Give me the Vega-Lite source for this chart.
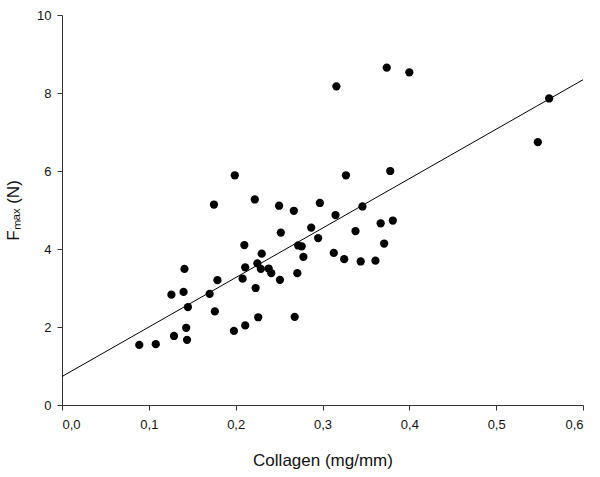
{
  "$schema": "https://vega.github.io/schema/vega-lite/v6.json",
  "width": 521,
  "height": 390,
  "autosize": {"type": "none"},
  "padding": {"left": 62, "top": 15, "right": 17, "bottom": 72},
  "background": "white",
  "config": {
    "view": {"stroke": null},
    "font": "Liberation Sans",
    "axis": {
      "grid": false,
      "domainColor": "#333333",
      "tickColor": "#333333",
      "tickSize": 5,
      "labelColor": "#111111",
      "titleColor": "#111111",
      "labelFont": "Liberation Sans",
      "titleFont": "Liberation Sans",
      "labelFontSize": 13,
      "titleFontSize": 17,
      "titleFontWeight": "normal"
    }
  },
  "datasets": {
    "pts": [
      {"collagen": 0.089, "fmax": 1.54},
      {"collagen": 0.108, "fmax": 1.56},
      {"collagen": 0.129, "fmax": 1.77},
      {"collagen": 0.144, "fmax": 1.67},
      {"collagen": 0.143, "fmax": 1.98},
      {"collagen": 0.126, "fmax": 2.83},
      {"collagen": 0.140, "fmax": 2.90},
      {"collagen": 0.141, "fmax": 3.49},
      {"collagen": 0.145, "fmax": 2.51},
      {"collagen": 0.170, "fmax": 2.85},
      {"collagen": 0.176, "fmax": 2.40},
      {"collagen": 0.179, "fmax": 3.20},
      {"collagen": 0.175, "fmax": 5.14},
      {"collagen": 0.199, "fmax": 5.89},
      {"collagen": 0.198, "fmax": 1.90},
      {"collagen": 0.211, "fmax": 2.04},
      {"collagen": 0.208, "fmax": 3.24},
      {"collagen": 0.211, "fmax": 3.53},
      {"collagen": 0.210, "fmax": 4.10},
      {"collagen": 0.223, "fmax": 3.00},
      {"collagen": 0.226, "fmax": 2.25},
      {"collagen": 0.225, "fmax": 3.63},
      {"collagen": 0.229, "fmax": 3.49},
      {"collagen": 0.230, "fmax": 3.88},
      {"collagen": 0.222, "fmax": 5.27},
      {"collagen": 0.238, "fmax": 3.50},
      {"collagen": 0.241, "fmax": 3.38},
      {"collagen": 0.251, "fmax": 3.21},
      {"collagen": 0.252, "fmax": 4.42},
      {"collagen": 0.250, "fmax": 5.11},
      {"collagen": 0.267, "fmax": 4.98},
      {"collagen": 0.268, "fmax": 2.26},
      {"collagen": 0.271, "fmax": 3.38},
      {"collagen": 0.272, "fmax": 4.09},
      {"collagen": 0.276, "fmax": 4.07},
      {"collagen": 0.278, "fmax": 3.80},
      {"collagen": 0.287, "fmax": 4.55},
      {"collagen": 0.295, "fmax": 4.28},
      {"collagen": 0.297, "fmax": 5.18},
      {"collagen": 0.313, "fmax": 3.90},
      {"collagen": 0.315, "fmax": 4.87},
      {"collagen": 0.316, "fmax": 8.17},
      {"collagen": 0.325, "fmax": 3.74},
      {"collagen": 0.327, "fmax": 5.89},
      {"collagen": 0.338, "fmax": 4.46},
      {"collagen": 0.344, "fmax": 3.68},
      {"collagen": 0.346, "fmax": 5.09},
      {"collagen": 0.361, "fmax": 3.70},
      {"collagen": 0.367, "fmax": 4.66},
      {"collagen": 0.371, "fmax": 4.14},
      {"collagen": 0.374, "fmax": 8.65},
      {"collagen": 0.378, "fmax": 6.00},
      {"collagen": 0.381, "fmax": 4.73},
      {"collagen": 0.400, "fmax": 8.53},
      {"collagen": 0.548, "fmax": 6.74},
      {"collagen": 0.561, "fmax": 7.86}
    ],
    "fit": [
      {"collagen": 0.0, "fmax": 0.73},
      {"collagen": 0.6, "fmax": 8.34}
    ]
  },
  "layer": [
    {
      "data": {"name": "fit"},
      "mark": {"type": "line", "color": "#000000", "strokeWidth": 1},
      "encoding": {
        "x": {"field": "collagen", "type": "quantitative"},
        "y": {"field": "fmax", "type": "quantitative"}
      }
    },
    {
      "data": {"name": "pts"},
      "mark": {"type": "point", "filled": true, "shape": "circle", "size": 68, "color": "#000000", "opacity": 1},
      "encoding": {
        "x": {
          "field": "collagen",
          "type": "quantitative",
          "scale": {"domain": [0, 0.6], "nice": false, "zero": true},
          "axis": {
            "values": [0, 0.1, 0.2, 0.3, 0.4, 0.5, 0.6],
            "format": ".1f",
            "labelExpr": "replace(datum.label, '.', ',')",
            "title": "Collagen (mg/mm)",
            "titlePadding": 21,
            "labelPadding": 8
          }
        },
        "y": {
          "field": "fmax",
          "type": "quantitative",
          "scale": {"domain": [0, 10], "nice": false},
          "axis": {
            "values": [0, 2, 4, 6, 8, 10],
            "title": "Fₘₐₓ (N)",
            "titlePadding": 14,
            "labelPadding": 6
          }
        }
      }
    }
  ]
}
